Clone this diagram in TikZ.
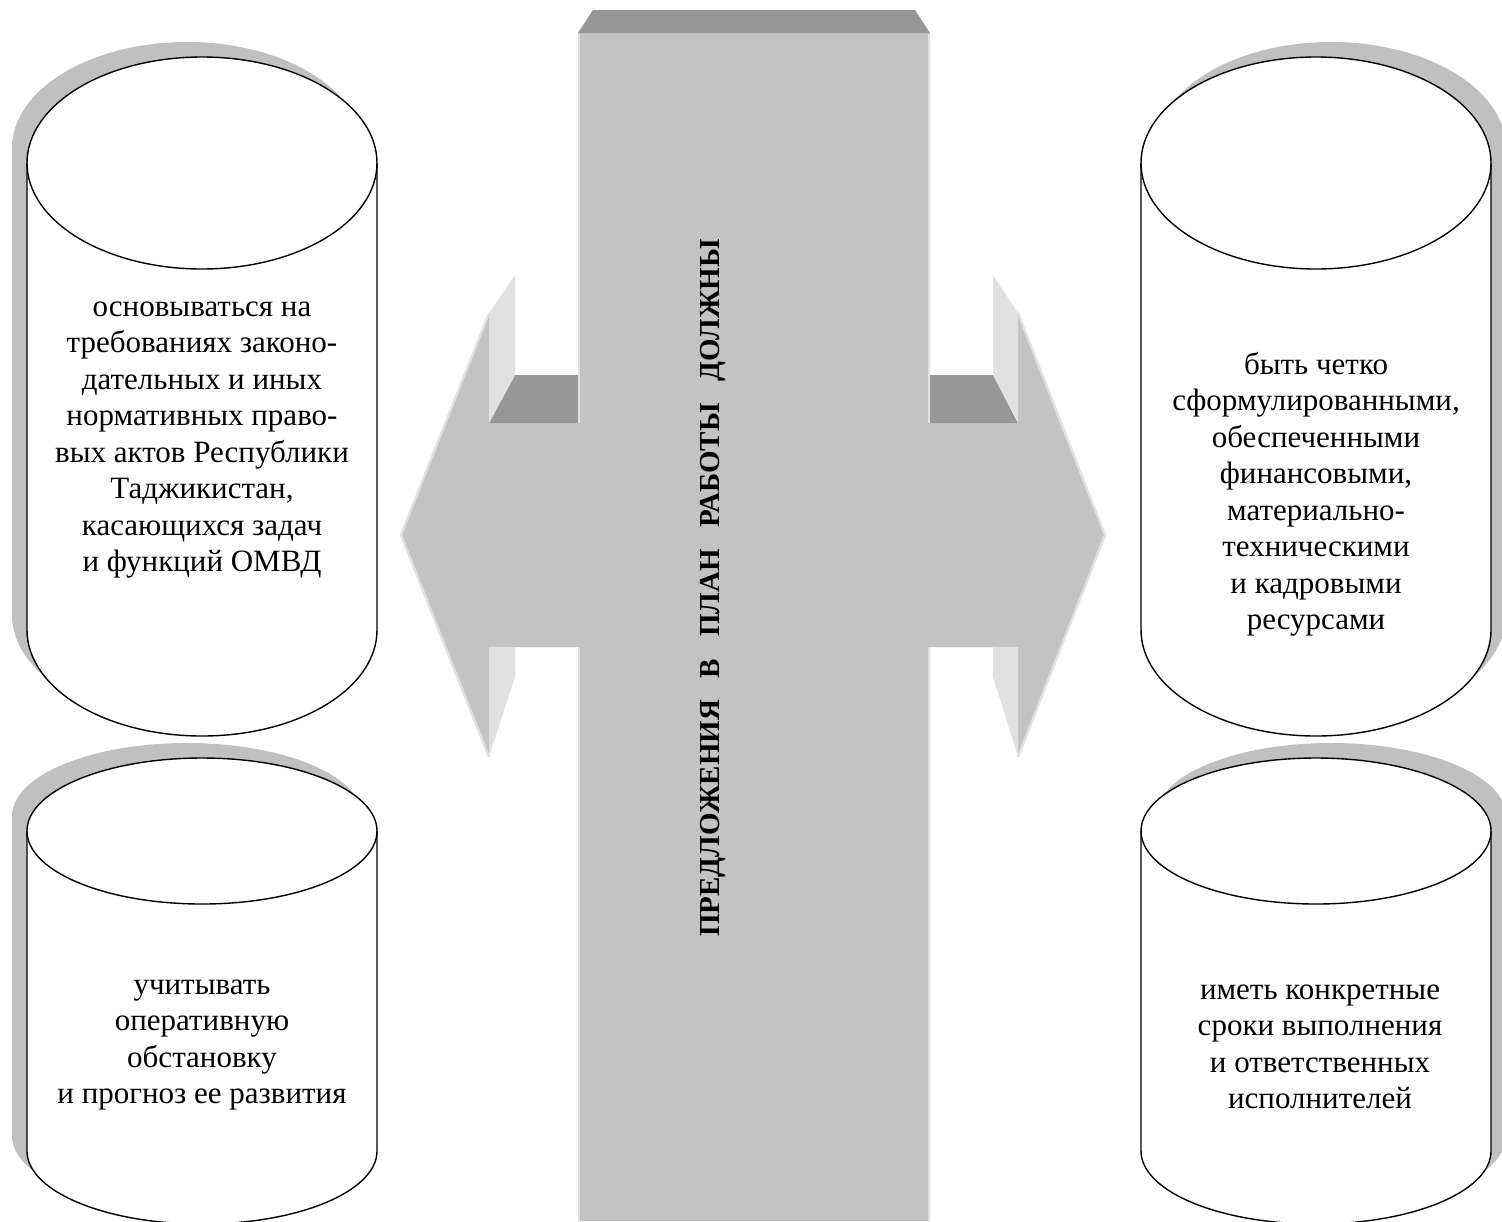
\documentclass[tikz,border=0pt]{standalone}
\usepackage{fontspec}
\setmainfont{Liberation Serif}
\usetikzlibrary{positioning}
\definecolor{slab}{HTML}{C3C3C3}
\definecolor{slabdark}{HTML}{979797}
\definecolor{slablight}{HTML}{E1E1E1}
\definecolor{drumshade}{HTML}{C0C0C0}
\newcommand\wgap{\hspace{0.75em}}
\tikzset{
  note/.style={align=center,font=\fontsize{15.5}{18.25}\selectfont,inner sep=0pt},
  title/.style={rotate=90,font=\fontsize{14.5}{17}\selectfont\bfseries,inner sep=0pt},
  rim/.style={draw=slablight,line width=1.2pt},
  % drum: shadow side, y radius of the ellipses, height of the side
  pics/drum/.style n args={3}{code={
    \fill[drumshade,shift={(#1*15,15)}] (-175,0)
      arc[start angle=180,end angle=0,x radius=175,y radius=#2] -- ++(0,-#3)
      arc[start angle=0,end angle=-180,x radius=175,y radius=#2] -- cycle;
    \filldraw[fill=white,draw=black,line width=0.7pt] (-175,0)
      arc[start angle=180,end angle=0,x radius=175,y radius=#2] -- ++(0,-#3)
      arc[start angle=0,end angle=-180,x radius=175,y radius=#2] -- cycle;
    \draw[line width=0.7pt] (-175,0) arc[start angle=180,end angle=360,x radius=175,y radius=#2];
  }},
}

\begin{document}
\begin{tikzpicture}[x=0.5pt,y=0.5pt]
  \useasboundingbox (0,0) rectangle (1502,-1221);
  % double arrow and bar
  \fill[slab] (578,-33) -- (578,-423) -- (489,-423) -- (489,-313) -- (401,-535) -- (489,-757)
    -- (489,-647) -- (578,-647) -- (578,-1221) -- (930,-1221) -- (930,-647) -- (1018,-647)
    -- (1018,-757) -- (1105,-535) -- (1018,-313) -- (1018,-423) -- (930,-423) -- (930,-33) -- cycle;
  \fill[slabdark] (578,-33) -- (593,-10) -- (915,-10) -- (930,-33) -- cycle;
  \fill[slabdark] (489,-423) -- (515,-375) -- (578,-375) -- (578,-423) -- cycle;
  \fill[slabdark] (930,-375) -- (993,-375) -- (1018,-423) -- (930,-423) -- cycle;
  \fill[slablight] (489,-313) -- (515,-275) -- (515,-375) -- (489,-423) -- cycle;
  \fill[slablight] (1018,-313) -- (993,-275) -- (993,-375) -- (1018,-423) -- cycle;
  \fill[slablight] (489,-647) -- (515,-647) -- (515,-677) -- (489,-757) -- cycle;
  \fill[slablight] (1018,-647) -- (993,-647) -- (993,-677) -- (1018,-757) -- cycle;
  \draw[rim] (579,-34) -- (579,-423) (579,-647) -- (579,-1221);
  \draw[rim] (929,-34) -- (929,-423) (929,-647) -- (929,-1221);
  \draw[rim] (489,-313) -- (401,-535) -- (489,-757);
  \draw[rim] (1018,-313) -- (1105,-535) -- (1018,-757);

  % drums
  \pic at (202,-163) {drum={-1}{106}{467}};
  \pic at (1316,-163) {drum={1}{106}{467}};
  \pic at (202,-831) {drum={-1}{73}{320}};
  \pic at (1316,-831) {drum={1}{73}{320}};

  \node[note] (reqs) at (202,-440) {основываться на\\требованиях законо-\\дательных и иных\\нормативных право-\\вых актов Республики\\Таджикистан,\\касающихся задач\\и функций ОМВД};
  \node[note] (clear) at (1316,-494) {быть четко\\сформулированными,\\обеспеченными\\финансовыми,\\материально-\\техническими\\и кадровыми\\ресурсами};
  \node[note] (situ) at (202,-1045) {учитывать\\оперативную\\обстановку\\и прогноз ее развития};
  \node[note] (terms) at (1320,-1047) {иметь конкретные\\сроки выполнения\\и ответственных\\исполнителей};
  \node[title] (head) at (713,-588) {ПРЕДЛОЖЕНИЯ\wgap В\wgap ПЛАН\wgap РАБОТЫ\wgap ДОЛЖНЫ};
\end{tikzpicture}
\end{document}
